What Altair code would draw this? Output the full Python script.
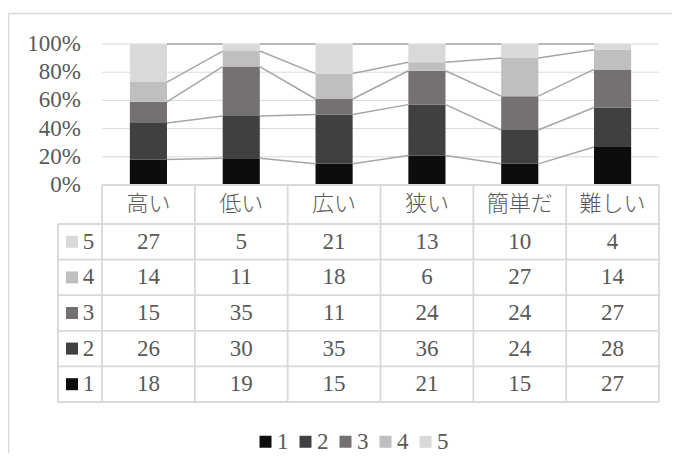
import altair as alt
import pandas as pd

# ---------------- data ----------------
categories = ["高い", "低い", "広い", "狭い", "簡単だ", "難しい"]
series_names = ["1", "2", "3", "4", "5"]
s1 = [18, 19, 15, 21, 15, 27]
s2 = [26, 30, 35, 36, 24, 28]
s3 = [15, 35, 11, 24, 24, 27]
s4 = [14, 11, 18, 6, 27, 14]
s5 = [27, 5, 21, 13, 10, 4]
series_values = [s1, s2, s3, s4, s5]
y_ticks = [0, 20, 40, 60, 80, 100]

colors = ["#0d0d0d", "#404040", "#767171", "#bfbfbf", "#d9d9d9"]
TXT = "#595959"
GRID = "#d9d9d9"
SERLINE = "#a6a6a6"
FONT = "'Liberation Serif', 'Noto Sans CJK JP', serif"
FS = 23

# ---------------- layout (data units) ----------------
n = len(categories)
XMIN = -0.474           # left edge of the table legend column
HDR = 27.66             # header row height
ROW = 25.25             # data row height
YMIN = -(HDR + ROW * len(series_names))
W, H = 601, 358
BAR_HALF = 0.2

xs = alt.Scale(domain=[XMIN, n], nice=False, zero=False)
ys = alt.Scale(domain=[YMIN, 100], nice=False, zero=False)
cscale = alt.Scale(domain=series_names, range=colors)

# ---------------- frames ----------------
totals = [sum(v[i] for v in series_values) for i in range(n)]
bar_rows, cum = [], [[0.0] * n]
for s, vals in zip(series_names, series_values):
    prev = cum[-1]
    nxt = [prev[i] + vals[i] / totals[i] * 100 for i in range(n)]
    cum.append(nxt)
    for i in range(n):
        bar_rows.append(dict(series=s, cat=categories[i], x=i + 0.5 - BAR_HALF,
                             x2=i + 0.5 + BAR_HALF, y=prev[i], y2=nxt[i]))
bars_df = pd.DataFrame(bar_rows)

seg_rows = []
for k in range(1, len(cum)):
    for i in range(n - 1):
        seg_rows.append(dict(x=i + 0.5 + BAR_HALF, x2=i + 1.5 - BAR_HALF,
                             y=cum[k][i], y2=cum[k][i + 1]))
seg_df = pd.DataFrame(seg_rows)

grid_df = pd.DataFrame(dict(y=y_ticks[1:], x=[0] * 5, x2=[n] * 5))
ylab_df = pd.DataFrame(dict(y=y_ticks, label=[f"{t}%" for t in y_ticks],
                            x=[-0.226] * len(y_ticks)))

# table lines
hlines = [dict(x=0, x2=n, y=0, y2=0)]
for r in range(len(series_names) + 1):
    yy = -HDR - r * ROW
    hlines.append(dict(x=XMIN, x2=n, y=yy, y2=yy))
vlines = [dict(x=i, x2=i, y=0, y2=YMIN) for i in range(n + 1)]
vlines.append(dict(x=XMIN, x2=XMIN, y=-HDR, y2=YMIN))
tlines_df = pd.DataFrame(hlines + vlines)

hdr_df = pd.DataFrame(dict(cat=categories, x=[i + 0.5 for i in range(n)],
                           y=[-HDR / 2] * n))
cell_rows, rh_rows = [], []
for j, (s, vals) in enumerate(zip(series_names, series_values)):
    r = len(series_names) - 1 - j
    ymid = -HDR - r * ROW - ROW / 2
    rh_rows.append(dict(series=s, y=ymid, xs=-0.323, xl=-0.145))
    for i in range(n):
        cell_rows.append(dict(v=str(vals[i]), x=i + 0.5, y=ymid))
cells_df = pd.DataFrame(cell_rows)
rh_df = pd.DataFrame(rh_rows)

border_df = pd.DataFrame([dict(x=-1.007, x2=-1.007, y=121.6, y2=YMIN - 60),
                          dict(x=-1.007, x2=n + 1, y=121.6, y2=121.6)])

# ---------------- layers ----------------
def X(f="x"):
    return alt.X(f"{f}:Q", scale=xs, axis=None)

def Y(f="y"):
    return alt.Y(f"{f}:Q", scale=ys, axis=None)

border = alt.Chart(border_df).mark_rule(color=GRID, strokeWidth=1.5).encode(
    x=X(), x2="x2:Q", y=Y(), y2="y2:Q")

grid = alt.Chart(grid_df).mark_rule(color=GRID, strokeWidth=1).encode(
    x=X(), x2="x2:Q", y=Y())

bars = alt.Chart(bars_df).mark_rect().encode(
    x=X(), x2="x2:Q", y=Y(), y2="y2:Q",
    color=alt.Color("series:N", scale=cscale,
                    legend=alt.Legend(orient="none", legendX=196, legendY=386,
                                      direction="horizontal", title=None,
                                      symbolType="square", symbolSize=144,
                                      symbolStrokeWidth=0, labelFont=FONT,
                                      labelFontSize=FS, labelColor=TXT,
                                      columnPadding=5, labelOffset=0,
                                      padding=0)))

seglines = alt.Chart(seg_df).mark_rule(color=SERLINE, strokeWidth=1.5).encode(
    x=X(), x2="x2:Q", y=Y(), y2="y2:Q")

ylabels = alt.Chart(ylab_df).mark_text(align="right", baseline="middle",
                                       font=FONT, fontSize=FS, color=TXT).encode(
    x=X(), y=Y(), text="label:N")

tlines = alt.Chart(tlines_df).mark_rule(color=GRID, strokeWidth=1.8).encode(
    x=X(), x2="x2:Q", y=Y(), y2="y2:Q")

hdr = alt.Chart(hdr_df).mark_text(align="center", baseline="middle", font=FONT,
                                  fontSize=22, fontWeight=300, color=TXT).encode(
    x=X(), y=Y(), text="cat:N")

cells = alt.Chart(cells_df).mark_text(align="center", baseline="middle", font=FONT,
                                      fontSize=FS, color=TXT).encode(
    x=X(), y=Y(), text="v:N")

rh_sq = alt.Chart(rh_df).mark_square(size=144, opacity=1).encode(
    x=X("xs"), y=Y(), color=alt.Color("series:N", scale=cscale, legend=None))

rh_lab = alt.Chart(rh_df).mark_text(align="center", baseline="middle", font=FONT,
                                    fontSize=FS, color=TXT).encode(
    x=X("xl"), y=Y(), text="series:N")

chart = alt.layer(border, grid, bars, seglines, ylabels, tlines, hdr, cells,
                  rh_sq, rh_lab).properties(
    width=W, height=H,
    autosize=alt.AutoSizeParams(type="none"),
    padding={"left": 50, "top": 36, "right": 13, "bottom": 51},
).configure_view(stroke=None)

chart.save("out.html", embed_options={"renderer": "svg", "actions": False})
